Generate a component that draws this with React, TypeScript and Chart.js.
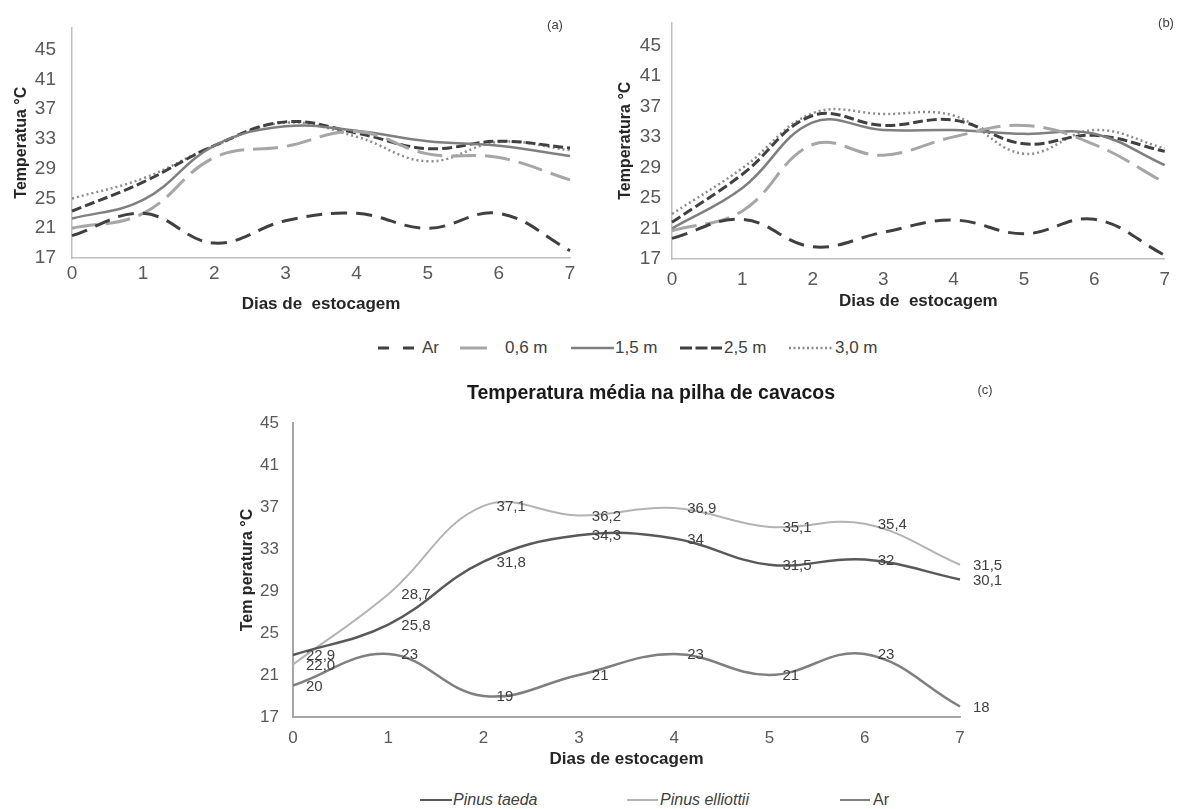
import React, { useEffect, useRef } from 'react';
import { Chart, registerables } from 'chart.js';

Chart.register(...registerables);

const FONT = "'Liberation Sans', Arial, Helvetica, sans-serif";

// ---------------- data ----------------
const days = ['0', '1', '2', '3', '4', '5', '6', '7'];
const yTicks = [17, 21, 25, 29, 33, 37, 41, 45];
const depthNames = ['Ar', '0,6 m', '1,5 m', '2,5 m', '3,0 m'];

// panel (a)
const arA = [20, 23, 19, 22, 23, 21, 23, 18];
const m06A = [21, 23, 30.5, 32, 34, 31, 30.5, 27.5];
const m15A = [22.3, 24.8, 32.1, 34.7, 34.1, 32.7, 32.1, 30.7];
const m25A = [23.3, 27.2, 32.1, 35.3, 33.8, 31.7, 32.7, 31.8];
const m30A = [25, 27.7, 32.1, 35.2, 33.3, 30, 32.6, 31.5];

// panel (b)
const arB = [19.7, 22.2, 18.6, 20.5, 22.1, 20.3, 22.2, 17.5];
const m06B = [20.7, 23.3, 32, 30.6, 33, 34.5, 32, 27];
const m15B = [21, 26.3, 34.9, 33.9, 33.9, 33.4, 33.4, 29.3];
const m25B = [21.8, 28.1, 35.8, 34.5, 35.2, 32.1, 33.2, 31.1];
const m30B = [22.9, 28.9, 36.1, 36, 35.8, 30.8, 33.9, 31.5];

// panel (c)
const pinusTitle = 'Temperatura média na pilha de cavacos';
const pinusNames = ['Pinus taeda', 'Pinus elliottii', 'Ar'];
const taeda = [22.9, 25.8, 31.8, 34.3, 34, 31.5, 32, 30.1];
const elliottii = [22.0, 28.7, 37.1, 36.2, 36.9, 35.1, 35.4, 31.5];
const arC = [20, 23, 19, 21, 23, 21, 23, 18];
const taedaLabels = ['22,9', '25,8', '31,8', '34,3', '34', '31,5', '32', '30,1'];
const elliottiiLabels = ['22,0', '28,7', '37,1', '36,2', '36,9', '35,1', '35,4', '31,5'];
const arCLabels = ['20', '23', '19', '21', '23', '21', '23', '18'];

// ---------------- styles ----------------
const depthStyles = [
  { color: '#404040', width: 3, dash: [16, 9] },
  { color: '#a6a6a6', width: 3, dash: [25, 9] },
  { color: '#7f7f7f', width: 2.5, dash: [] as number[] },
  { color: '#404040', width: 3, dash: [10, 4] },
  { color: '#8c8c8c', width: 2.5, dash: [2, 3] },
];
const pinusStyles = [
  { color: '#595959', width: 2.5 },
  { color: '#b3b3b3', width: 2 },
  { color: '#7f7f7f', width: 2.5 },
];

const textPlugin = {
  id: 'extraTexts',
  afterDraw(chart: any, _args: any, opts: any) {
    if (!opts || !opts.items) return;
    const ctx = chart.ctx;
    ctx.save();
    ctx.textAlign = 'center';
    ctx.textBaseline = 'middle';
    opts.items.forEach((it: any) => {
      ctx.font = it.font;
      ctx.fillStyle = it.color || '#404040';
      ctx.fillText(it.text, it.x, it.y);
    });
    ctx.restore();
  },
};

const pointLabelPlugin = {
  id: 'pointLabels',
  afterDatasetsDraw(chart: any) {
    const ctx = chart.ctx;
    ctx.save();
    ctx.font = `15px ${FONT}`;
    ctx.fillStyle = '#404040';
    ctx.textAlign = 'left';
    ctx.textBaseline = 'middle';
    chart.data.datasets.forEach((ds: any, i: number) => {
      const labels = ds.pointLabels;
      if (!labels) return;
      chart.getDatasetMeta(i).data.forEach((pt: any, j: number) => {
        ctx.fillText(labels[j], pt.x + 13, pt.y + 1);
      });
    });
    ctx.restore();
  },
};

function depthConfig(series: number[][], yTitle: string, g: any): any {
  return {
    type: 'line',
    data: {
      labels: days,
      datasets: series.map((d, i) => ({
        label: depthNames[i],
        data: d,
        borderColor: depthStyles[i].color,
        borderWidth: depthStyles[i].width,
        borderDash: depthStyles[i].dash,
        pointRadius: 0,
        tension: 0.4,
        fill: false,
      })),
    },
    options: {
      responsive: false,
      animation: false,
      layout: { padding: { top: g.padTop, right: g.padRight, left: 0, bottom: 0 } },
      plugins: {
        legend: { display: false },
        tooltip: { enabled: false },
        extraTexts: { items: [{ text: g.corner.text, x: g.corner.x, y: g.corner.y, font: `13px ${FONT}` }] },
      },
      scales: {
        x: {
          grid: { display: false, drawTicks: false },
          border: { display: true, color: '#bfbfbf', width: 1.5 },
          ticks: { font: { family: FONT, size: 19 }, color: '#595959', padding: g.xTickPad, maxRotation: 0, autoSkip: false },
          title: {
            display: true,
            text: 'Dias de  estocagem',
            font: { family: FONT, size: 17, weight: 'bold' },
            color: '#262626',
            padding: { top: 0, bottom: g.xTitlePad },
          },
          afterFit: (s: any) => { s.height = g.xHeight; },
        },
        y: {
          min: 17,
          max: 48,
          afterBuildTicks: (s: any) => { s.ticks = yTicks.map((v) => ({ value: v })); },
          grid: { display: false, drawTicks: false },
          border: { display: true, color: '#bfbfbf', width: 1.5 },
          ticks: { font: { family: FONT, size: 19 }, color: '#595959', padding: g.yTickPad },
          title: {
            display: true,
            text: yTitle,
            font: { family: FONT, size: 16, weight: 'bold' },
            color: '#262626',
            padding: { top: g.yTitlePad, bottom: 0 },
          },
          afterFit: (s: any) => { s.width = g.yWidth; },
        },
      },
    },
    plugins: [textPlugin],
  };
}

function pinusConfig(): any {
  const series = [taeda, elliottii, arC];
  const labels = [taedaLabels, elliottiiLabels, arCLabels];
  return {
    type: 'line',
    data: {
      labels: days,
      datasets: series.map((d, i) => ({
        label: pinusNames[i],
        data: d,
        pointLabels: labels[i],
        borderColor: pinusStyles[i].color,
        borderWidth: pinusStyles[i].width,
        pointRadius: 0,
        tension: 0.4,
        fill: false,
      })),
    },
    options: {
      responsive: false,
      animation: false,
      layout: { padding: { top: 53, right: 122, left: 0, bottom: 0 } },
      plugins: {
        legend: { display: false },
        tooltip: { enabled: false },
        title: { display: false },
        extraTexts: {
          items: [
            { text: pinusTitle, x: 431, y: 24, font: `bold 19.5px ${FONT}`, color: '#1a1a1a' },
            { text: '(c)', x: 765, y: 20, font: `13px ${FONT}` },
          ],
        },
      },
      scales: {
        x: {
          grid: { display: false, drawTicks: false },
          border: { display: true, color: '#a6a6a6', width: 2 },
          ticks: { font: { family: FONT, size: 17 }, color: '#595959', padding: 11, maxRotation: 0, autoSkip: false },
          title: {
            display: true,
            text: 'Dias de estocagem',
            font: { family: FONT, size: 17, weight: 'bold' },
            color: '#262626',
            padding: { top: 0, bottom: 10 },
          },
          afterFit: (s: any) => { s.height = 63; },
        },
        y: {
          min: 17,
          max: 45,
          afterBuildTicks: (s: any) => { s.ticks = yTicks.map((v) => ({ value: v })); },
          grid: { display: false, drawTicks: false },
          border: { display: true, color: '#a6a6a6', width: 2 },
          ticks: { font: { family: FONT, size: 17 }, color: '#595959', padding: 14 },
          title: {
            display: true,
            text: 'Tem peratura °C',
            font: { family: FONT, size: 16, weight: 'bold' },
            color: '#262626',
            padding: { top: 18, bottom: 0 },
          },
          afterFit: (s: any) => { s.width = 73; },
        },
      },
    },
    plugins: [textPlugin, pointLabelPlugin],
  };
}

function LegendLine(props: { len: number; color: string; width: number; dash?: number[] }) {
  const { len, color, width, dash } = props;
  return (
    <svg width={len} height={10} style={{ display: 'block' }}>
      <line
        x1={0}
        y1={5}
        x2={len}
        y2={5}
        stroke={color}
        strokeWidth={width}
        strokeDasharray={dash && dash.length ? dash.join(' ') : undefined}
      />
    </svg>
  );
}

const topLegendPos = [
  { x: 378, len: 41, tx: 422 },
  { x: 460, len: 27, tx: 505 },
  { x: 571, len: 43, tx: 615 },
  { x: 680, len: 42, tx: 724 },
  { x: 789, len: 44, tx: 835 },
];
const topLegendDash = [[11, 14], [27], [], [12, 3.5], [2, 2.5]];

const bottomLegendPos = [
  { x: 420, len: 32, tx: 453, italic: true },
  { x: 627, len: 31, tx: 660, italic: true },
  { x: 840, len: 30, tx: 873, italic: false },
];

export default function App() {
  const refA = useRef<HTMLCanvasElement>(null);
  const refB = useRef<HTMLCanvasElement>(null);
  const refC = useRef<HTMLCanvasElement>(null);

  useEffect(() => {
    const a = new Chart(
      refA.current as HTMLCanvasElement,
      depthConfig([arA, m06A, m15A, m25A, m30A], 'Temperatua °C', {
        padTop: 20, padRight: 20, yWidth: 72, xHeight: 62, xTickPad: 4, xTitlePad: 5, yTickPad: 16, yTitlePad: 12,
        corner: { text: '(a)', x: 555, y: 25 },
      })
    );
    const b = new Chart(
      refB.current as HTMLCanvasElement,
      depthConfig([arB, m06B, m15B, m25B, m30B], 'Temperatura °C', {
        padTop: 20, padRight: 12, yWidth: 82, xHeight: 61, xTickPad: 9, xTitlePad: 8, yTickPad: 11, yTitlePad: 26,
        corner: { text: '(b)', x: 576, y: 23 },
      })
    );
    const c = new Chart(refC.current as HTMLCanvasElement, pinusConfig());
    return () => {
      a.destroy();
      b.destroy();
      c.destroy();
    };
  }, []);

  const textStyle: React.CSSProperties = {
    position: 'absolute',
    fontFamily: FONT,
    color: '#404040',
    lineHeight: '20px',
    whiteSpace: 'pre',
  };

  return (
    <div style={{ position: 'absolute', left: 0, top: 0, width: 1179, height: 809, background: '#fff', overflow: 'hidden' }}>
      <div style={{ position: 'absolute', left: 0, top: 0 }}>
        <canvas ref={refA} width={590} height={320} style={{ display: 'block' }} />
      </div>
      <div style={{ position: 'absolute', left: 590, top: 0 }}>
        <canvas ref={refB} width={589} height={320} style={{ display: 'block' }} />
      </div>
      <div style={{ position: 'absolute', left: 220, top: 370 }}>
        <canvas ref={refC} width={862} height={410} style={{ display: 'block' }} />
      </div>

      {depthNames.map((name, i) => (
        <React.Fragment key={name}>
          <div style={{ position: 'absolute', left: topLegendPos[i].x, top: 343 }}>
            <LegendLine len={topLegendPos[i].len} color={depthStyles[i].color} width={depthStyles[i].width} dash={topLegendDash[i]} />
          </div>
          <div style={{ ...textStyle, left: topLegendPos[i].tx, top: 338, fontSize: 17 }}>{name}</div>
        </React.Fragment>
      ))}

      {pinusNames.map((name, i) => (
        <React.Fragment key={name}>
          <div style={{ position: 'absolute', left: bottomLegendPos[i].x, top: 795 }}>
            <LegendLine len={bottomLegendPos[i].len} color={pinusStyles[i].color} width={2} />
          </div>
          <div
            style={{
              ...textStyle,
              left: bottomLegendPos[i].tx,
              top: 790,
              fontSize: 16,
              fontStyle: bottomLegendPos[i].italic ? 'italic' : 'normal',
            }}
          >
            {name}
          </div>
        </React.Fragment>
      ))}
    </div>
  );
}
